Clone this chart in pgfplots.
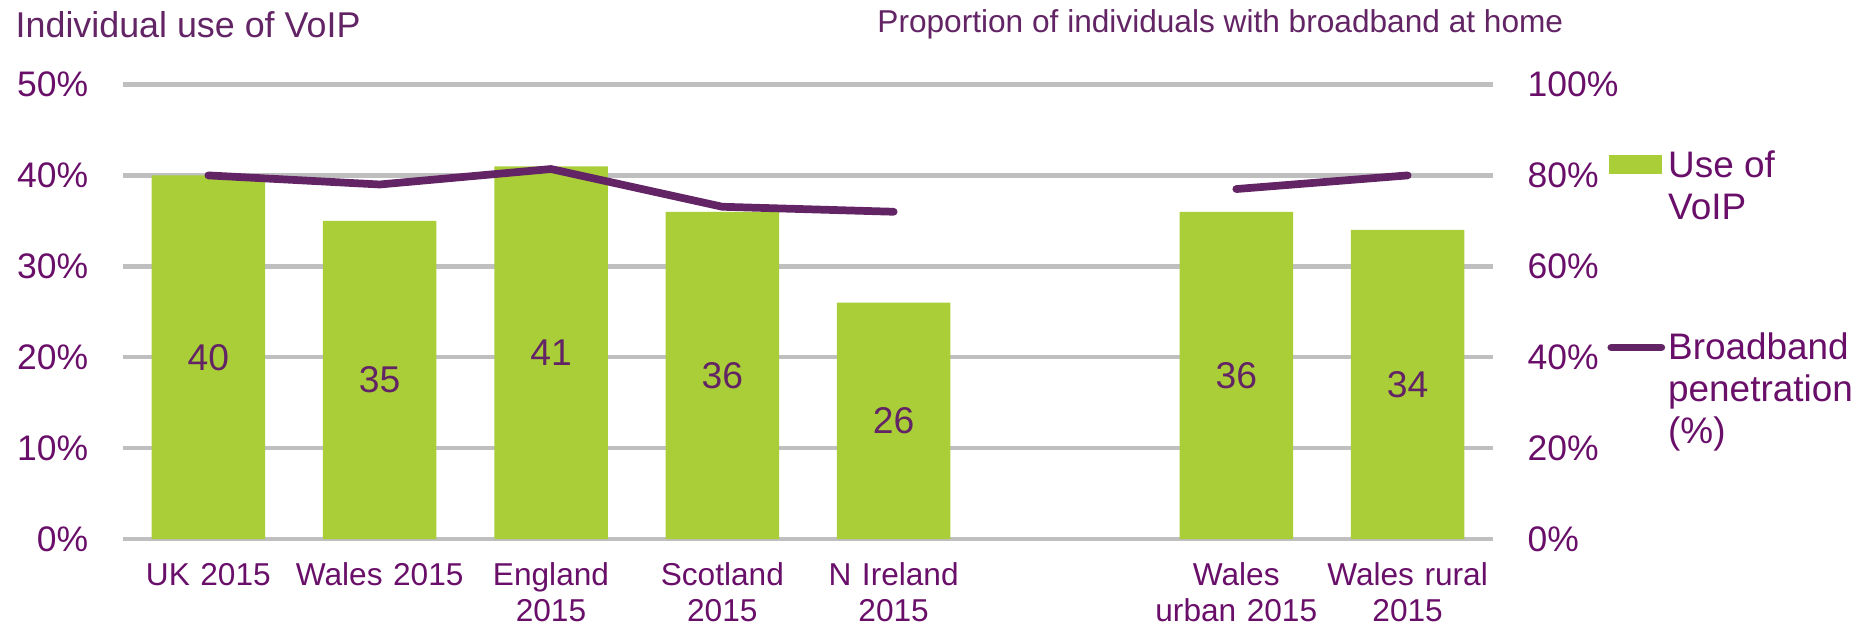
\documentclass[border=0pt]{standalone}
\usepackage{fontspec}
\setmainfont{Liberation Sans}
\usepackage{pgfplots}
\usepackage{pgfplotstable}
\pgfplotsset{compat=1.18}

\definecolor{voipgreen}{RGB}{169,206,56}
\definecolor{bbpurple}{RGB}{99,36,101}
\definecolor{txtpurple}{RGB}{105,15,105}
\definecolor{gridgray}{RGB}{191,191,191}

% x = category slot (5 is the empty gap), voip = % using VoIP, bb = broadband at home %
\pgfplotstableread{
x voip bb
0 40 80
1 35 78
2 41 81.4
3 36 73.1
4 26 72
5 nan nan
6 36 77
7 34 80
}\data

\pgfplotsset{
  base/.style={
    scale only axis, width=13.706cm, height=4.545cm,
    at={(0,0)}, anchor=south west,
    xmin=-0.5, xmax=7.5,
    axis line style={draw=none},
    tick style={draw=none}, major tick length=0pt,
    clip=false,
    /pgf/number format/assume math mode=true,
  },
}

\begin{document}
\begin{tikzpicture}
\path[use as bounding box] (-1.227cm,-0.90cm) rectangle (17.413cm,5.39cm);

\begin{axis}[base,
  ymin=0, ymax=50,
  ytick={0,10,...,50},
  yticklabels={0\%,10\%,20\%,30\%,40\%,50\%},
  yticklabel style={anchor=east, inner sep=0pt, xshift=-3.37mm,
    font=\fontsize{10.1}{12}\selectfont, text=txtpurple},
  xtick={0,1,2,3,4,6,7},
  xticklabels={UK 2015, Wales 2015, England\\2015, Scotland\\2015,
    N Ireland\\2015, Wales\\urban 2015, Wales rural\\2015},
  xticklabel style={anchor=base, inner sep=0pt, yshift=-4.6mm, align=center,
    text width=2.2cm, font=\fontsize{9}{10.5}\selectfont, text=txtpurple},
  ymajorgrids, grid style={line width=1.3pt, gridgray},
  ybar, bar width=1.135cm,
]
\addplot[fill=voipgreen, draw=none] table[x=x, y=voip] {\data};
\end{axis}

\begin{axis}[base,
  ymin=0, ymax=100,
  axis y line*=right, axis x line=none,
  ytick={0,20,...,100},
  yticklabels={0\%,20\%,40\%,60\%,80\%,100\%},
  yticklabel style={anchor=west, inner sep=0pt, xshift=3.37mm,
    font=\fontsize{10.1}{12}\selectfont, text=txtpurple},
  legend style={at={(axis description cs:1.0828,0.859)}, anchor=north west,
    draw=none, fill=none, inner sep=0pt, column sep=0.85pt, row sep=0pt,
    font=\fontsize{10.5}{12}\selectfont, text=txtpurple,
    cells={anchor=base west},
    nodes={inner sep=0pt, text height=8pt, text depth=43.67pt}},
]
% value labels sit at half the bar height: on this 0-100 scale that is y = voip
\addplot[draw=none, mark=none, forget plot, nodes near coords, point meta=explicit,
  nodes near coords style={anchor=center, inner sep=0pt,
    font=\fontsize{10.6}{12}\selectfont, text=bbpurple}]
  table[x=x, y=voip, meta=voip] {\data};

\addlegendimage{legend image code/.code={\fill[voipgreen] (0cm,1.05pt) rectangle (0.523cm,6.2pt);}}
\addlegendentry{\parbox[t]{3cm}{Use of\\VoIP}}

\addplot[bbpurple, line width=2.2pt, line cap=round, line join=round, mark=none,
  unbounded coords=jump,
  legend image code/.code={\draw[bbpurple, line width=2.2pt, line cap=round]
    (0.02cm,3.3pt) -- (0.52cm,3.3pt);}]
  table[x=x, y=bb] {\data};
\addlegendentry{\parbox[t]{3cm}{Broadband\\penetration\\(\%)}}
\end{axis}

\node[anchor=base west, inner sep=0pt, font=\fontsize{10.2}{12}\selectfont, text=bbpurple]
  at (-1.077cm,5.017cm) {Individual use of VoIP};
\node[anchor=base west, inner sep=0pt, font=\fontsize{9}{11}\selectfont, text=bbpurple]
  at (7.54cm,5.063cm) {Proportion of individuals with broadband at home};
\end{tikzpicture}
\end{document}
